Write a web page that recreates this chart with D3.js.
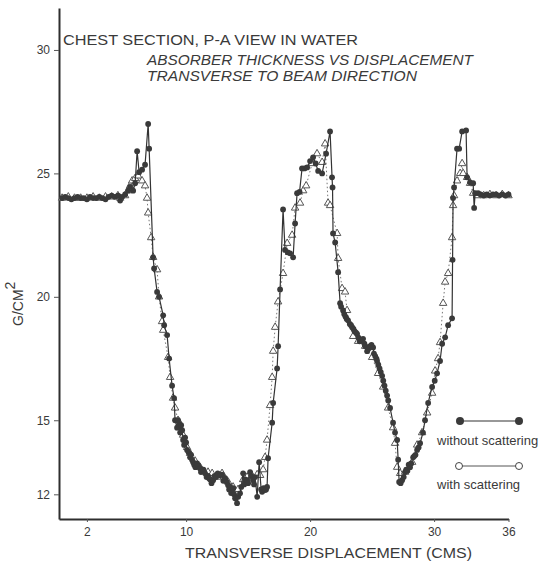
<!DOCTYPE html>
<html>
<head>
<meta charset="utf-8">
<script src="https://cdn.jsdelivr.net/npm/d3@7"></script>
<style>
body{margin:0;background:#fff;}
text{font-family:"Liberation Sans",Arial,sans-serif;fill:#3a3a3a;}
</style>
</head>
<body>
<svg></svg>
<script>
// values (cm, g/cm2)
var withoutScattering=[
[0,24.0],[0.25,24.05],[0.5,24.0],[0.75,23.95],[1,24.0],[1.25,24.05],[1.5,24.0],[1.75,24.0],[2,23.95],[2.25,24.05],
[2.5,24.0],[2.75,24.0],[3,24.05],[3.25,24.0],[3.5,23.95],[3.75,24.05],[4,24.1],[4.25,24.05],[4.5,24.1],
[4.68,23.9],[4.84,24.05],[5.08,24.15],[5.32,24.3],[5.48,24.45],[5.73,24.3],[5.89,24.6],[6.05,25.9],[6.21,25.05],
[6.45,25.15],[6.69,25.35],[6.94,27.0],[7.02,26.0],[7.34,21.6],[7.42,21.15],[7.66,20.2],[7.82,20.0],[8.15,19.25],
[8.23,18.85],[8.47,18.45],[8.63,17.5],[8.87,16.4],
[9.03,15.9],[9.11,15.0],[9.27,14.7],[9.35,15.0],[9.44,14.85],[9.52,14.5],[9.6,14.8],[9.68,14.6],[9.76,14.2],
[9.84,14.0],[9.92,14.3],[10.0,14.1],[10.08,13.8],[10.2,13.7],[10.32,13.5],[10.4,13.6],[10.48,13.4],[10.57,13.3],
[10.65,13.2],[10.75,13.1],[10.89,13.25],[11.0,13.15],[11.13,13.05],[11.2,12.9],[11.29,12.95],[11.4,13.0],
[11.53,12.85],[11.65,12.7],[11.77,12.75],[11.85,12.65],[11.94,12.6],[12.05,12.45],[12.18,12.57],[12.3,12.75],
[12.42,12.7],[12.55,12.85],[12.74,12.77],[12.9,12.8],[13.0,12.55],[13.15,12.65],[13.3,12.5],[13.39,12.37],
[13.47,12.2],[13.55,12.3],[13.63,12.05],[13.71,12.17],[13.8,12.25],[13.87,12.0],[13.95,11.84],[14.11,11.64],
[14.2,11.9],[14.35,12.04],[14.45,12.3],[14.6,12.85],[14.68,12.4],[14.76,12.6],[14.92,12.57],[15.0,12.45],
[15.16,12.9],[15.25,12.75],[15.4,12.57],[15.48,12.4],[15.56,12.7],[15.73,11.9],[15.89,13.3],[16.05,12.2],
[16.13,12.1],[16.25,12.25],[16.37,12.17],[16.45,12.2],[16.53,12.3],[16.61,13.46],
[16.94,14.9],[17.02,15.7],[17.34,17.1],[17.42,18.0],
[17.58,20.3],[17.82,23.54],[17.98,21.9],[18.2,21.8],[18.39,21.76],[18.63,21.6],[18.79,22.97],[18.95,24.2],
[19.15,24.25],[19.35,25.2],[19.55,25.2],[19.76,25.24],[20.0,25.5],[20.24,25.65],[20.45,25.4],[20.65,25.1],
[20.97,25.0],[21.29,25.8],[21.61,26.7],[21.77,24.84],[21.81,24.43],[21.85,22.57],[22.02,22.2],[22.26,21.0],
[22.42,19.74],[22.5,19.6],[22.66,19.45],[22.75,19.3],[22.85,19.2],[22.95,19.1],[23.06,19.05],[23.2,18.9],
[23.3,18.85],[23.39,18.77],[23.5,18.7],[23.6,18.6],[23.7,18.55],[23.79,18.5],[23.9,18.35],[24.0,18.2],
[24.15,18.25],[24.27,18.3],[24.38,18.1],[24.45,18.0],[24.6,17.8],[24.7,17.9],[24.85,18.0],[24.95,18.05],
[25.08,17.95],[25.15,17.7],[25.25,17.6],[25.35,17.5],[25.4,17.4],[25.5,17.25],[25.6,17.1],[25.7,16.95],
[25.81,16.8],[25.9,16.6],[26.0,16.4],[26.1,16.2],[26.21,16.0],[26.3,15.8],[26.45,15.5],[26.69,14.9],
[26.85,14.5],[27.02,14.2],[27.1,13.4],[27.18,12.5],[27.3,12.45],[27.42,12.57],[27.55,12.7],[27.66,12.9],
[27.75,13.0],[27.85,12.95],[27.95,13.2],[28.06,13.1],[28.15,13.25],[28.31,13.5],[28.4,13.55],[28.5,13.6],
[28.63,13.8],[28.75,13.9],[28.87,14.07],[29.1,14.5],[29.27,15.0],[29.52,15.7],[29.84,16.35],[30.05,16.6],
[30.24,16.9],[30.48,17.4],[30.65,18.1],[30.89,18.36],[31.13,18.85],[31.45,19.13],[31.49,21.5],[31.53,24.0],
[31.61,24.43],[31.85,26.0],[32.02,26.0],[32.26,26.7],[32.58,26.74],[32.66,24.84],[32.9,24.64],[33.15,24.6],
[33.23,23.6],[33.31,24.2],[33.55,24.2],[33.75,24.15],[34,24.1],[34.25,24.15],[34.5,24.1],[34.75,24.15],
[35,24.15],[35.25,24.1],[35.5,24.15],[35.75,24.1],[36,24.15]
];

var withScattering=[
[0,24.0],[0.5,24.05],[1,24.0],[1.5,24.0],[2,24.0],[2.5,24.05],[3,24.0],[3.5,24.05],[4,24.05],[4.5,24.1],
[4.68,24.0],[5.08,24.1],[5.32,24.3],[5.48,24.5],[5.65,24.7],[5.89,24.8],[6.13,24.9],[6.45,24.7],[6.69,24.5],
[6.85,24.0],[6.94,23.4],[7.18,22.4],[7.34,21.6],[7.66,21.1],[7.82,20.0],[8.06,19.0],[8.15,18.65],[8.55,17.55],
[8.71,16.74],[8.95,15.9],[9.11,15.5],[9.35,15.0],[9.52,14.7],[9.76,14.4],[10.08,13.9],[10.32,13.66],[10.73,13.35],
[11.13,13.1],[11.77,12.9],[12.1,12.85],[12.5,12.7],[12.9,12.85],[13.39,12.5],[13.79,12.3],[14.19,12.2],
[14.6,12.6],[14.92,12.7],[15.32,12.75],[15.73,12.8],[15.97,12.77],[16.21,13.0],[16.37,13.5],[16.53,14.2],
[16.77,15.6],[16.94,16.74],[17.02,17.8],[17.18,18.77],[17.42,19.8],[17.82,20.95],[18.15,22.17],[18.55,22.5],
[18.79,23.6],[19.19,23.8],[19.44,24.3],[19.68,24.5],[20.16,25.4],[20.56,25.8],[20.97,25.45],[21.21,26.2],
[21.45,23.8],[21.61,23.7],[22.18,22.57],[22.26,21.56],[22.58,20.34],[22.82,20.2],[22.98,19.45],[23.47,18.4],
[23.87,18.2],[24.44,18.0],[25.0,17.55],[25.48,16.9],[25.89,16.35],[26.29,15.5],[26.69,14.7],[26.85,14.07],
[27.02,13.1],[27.26,12.85],[27.66,12.9],[28.23,13.3],[28.63,14.0],[29.03,14.5],[29.44,15.3],[29.84,16.1],
[30.08,17.0],[30.32,17.5],[30.48,18.15],[30.73,19.74],[30.89,20.6],[31.13,20.95],[31.45,22.4],[31.53,23.7],
[31.61,24.1],[31.85,24.7],[32.1,25.0],[32.26,25.4],[32.34,25.0],[32.66,24.84],[32.9,24.6],[33.15,24.2],
[33.47,24.1],[34,24.1],[34.5,24.15],[35,24.1],[35.5,24.15],[36,24.1]
];

var xTicks=[2,10,20,30,36];
var yTicks=[12,15,20,25,30];
var titleLines=["CHEST SECTION, P-A VIEW IN WATER","ABSORBER  THICKNESS  VS  DISPLACEMENT","TRANSVERSE  TO  BEAM  DIRECTION"];
var legendLabels=["without scattering","with scattering"];

var width=544;
var height=564;

var svg=d3.select("svg")
.attr("width",width)
.attr("height",height);

var x=d3.scaleLinear().domain([-0.25,36]).range([59,508.5]);
var y=d3.scaleLinear().domain([11.0,31.7]).range([519,8]);

// axes
var yAxis=svg.append("g")
.attr("transform","translate(59,0)")
.call(d3.axisLeft(y).tickValues(yTicks).tickSize(5).tickSizeOuter(0).tickPadding(4));
var xAxis=svg.append("g")
.attr("transform","translate(0,519)")
.call(d3.axisBottom(x).tickValues(xTicks).tickSize(3).tickSizeOuter(0).tickPadding(5));

svg.selectAll(".domain").attr("stroke","#2e2e2e").attr("stroke-width",2);
svg.selectAll(".tick line").attr("stroke","#555").attr("stroke-width",1);
svg.selectAll(".tick text")
.style("font-family","'Liberation Sans',Arial,sans-serif")
.style("font-size","12px")
.attr("fill","#444");

// series lines
var line=d3.line()
.x(function(d){return x(d[0]);})
.y(function(d){return y(d[1]);});

svg.append("path")
.datum(withScattering)
.attr("d",line)
.attr("fill","none")
.attr("stroke","#777")
.attr("stroke-width",1)
.attr("stroke-dasharray","1.5,2.5");

var tri=d3.symbol().type(d3.symbolTriangle).size(24);
svg.selectAll(".tri")
.data(withScattering)
.enter()
.append("path")
.attr("class","tri")
.attr("d",tri)
.attr("transform",function(d){return "translate("+x(d[0])+","+y(d[1])+")";})
.attr("fill","#fff")
.attr("stroke","#555")
.attr("stroke-width",1);

svg.append("path")
.datum(withoutScattering)
.attr("d",line)
.attr("fill","none")
.attr("stroke","#333")
.attr("stroke-width",1.2);

svg.selectAll(".dot")
.data(withoutScattering)
.enter()
.append("circle")
.attr("class","dot")
.attr("cx",function(d){return x(d[0]);})
.attr("cy",function(d){return y(d[1]);})
.attr("r",2.9)
.attr("fill","#3a3a3a");

// titles
svg.append("text")
.attr("x",63).attr("y",45)
.attr("textLength",295).attr("lengthAdjust","spacingAndGlyphs")
.style("font-size","15px")
.text(titleLines[0]);
svg.append("text")
.attr("x",147).attr("y",65)
.attr("textLength",326).attr("lengthAdjust","spacingAndGlyphs")
.style("font-size","15px").style("font-style","italic")
.text(titleLines[1]);
svg.append("text")
.attr("x",147).attr("y",81)
.attr("textLength",270).attr("lengthAdjust","spacingAndGlyphs")
.style("font-size","15px").style("font-style","italic")
.text(titleLines[2]);

// axis titles
svg.append("text")
.attr("x",185).attr("y",558)
.attr("textLength",287).attr("lengthAdjust","spacingAndGlyphs")
.style("font-size","15px")
.text("TRANSVERSE  DISPLACEMENT  (CMS)");

var yl=svg.append("text")
.attr("transform","translate(23,326) rotate(-90)")
.attr("fill","#3a3a3a")
.style("font-size","14px");
yl.append("tspan").attr("fill","#3a3a3a").text("G/CM");
yl.append("tspan").attr("dy",-8).attr("fill","#3a3a3a").style("font-size","14px").text("2");

// legend
var lg=svg.append("g");
lg.append("line").attr("x1",460).attr("x2",519).attr("y1",421).attr("y2",421)
.attr("stroke","#333").attr("stroke-width",1.2);
lg.selectAll(".lgdot").data([460,519]).enter().append("circle")
.attr("cx",function(d){return d;}).attr("cy",421).attr("r",4).attr("fill","#3a3a3a");
lg.append("text").attr("x",437).attr("y",445).style("font-size","13px").text(legendLabels[0]);
lg.append("line").attr("x1",459).attr("x2",519).attr("y1",466).attr("y2",466)
.attr("stroke","#555").attr("stroke-width",1);
lg.selectAll(".lgopen").data([459,519]).enter().append("circle")
.attr("cx",function(d){return d;}).attr("cy",466).attr("r",3.5)
.attr("fill","#fff").attr("stroke","#444").attr("stroke-width",1);
lg.append("text").attr("x",437).attr("y",489).style("font-size","13px").text(legendLabels[1]);
</script>
</body>
</html>
